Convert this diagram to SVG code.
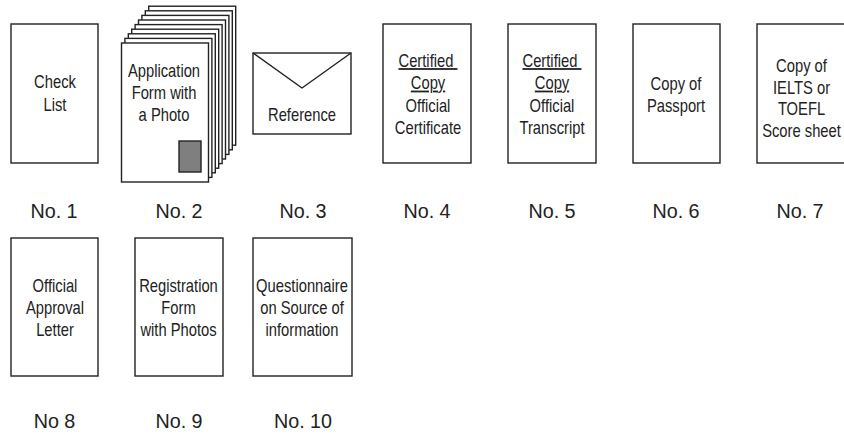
<svg xmlns="http://www.w3.org/2000/svg" width="844" height="435" viewBox="0 0 844 435">
  <style>
    .box { fill: #fff; stroke: #222; stroke-width: 1.4; }
    .photo { fill: #7f7f7f; stroke: #222; stroke-width: 1.4; }
    .flap { fill: none; stroke: #222; stroke-width: 1.4; stroke-linejoin: round; }
    .t { font-family: "Liberation Sans", Arial, sans-serif; font-size: 18px; fill: #222; text-anchor: middle; }
    .n { font-family: "Liberation Sans", Arial, sans-serif; font-size: 21px; fill: #222; text-anchor: middle; }
    .u { text-decoration: underline; white-space: pre; }
  </style>
  <rect width="844" height="435" fill="#fff"/>

  <!-- No. 1 -->
  <g id="doc1">
    <rect class="box" x="11" y="24" width="87" height="139"/>
    <text class="t" transform="matrix(0.82 0 0 1 55 0)"><tspan x="0" y="88">Check</tspan><tspan x="0" y="111">List</tspan></text>
    <text class="n" transform="matrix(0.94 0 0 1 54 0)" x="0" y="218.5">No. 1</text>
  </g>

  <!-- No. 2: a stack of sheets, drawn back to front -->
  <g id="doc2">
    <rect class="box" x="148.7" y="6.2" width="87" height="139"/>
    <rect class="box" x="145.3" y="10.8" width="87" height="139"/>
    <rect class="box" x="141.9" y="15.4" width="87" height="139"/>
    <rect class="box" x="138.5" y="20" width="87" height="139"/>
    <rect class="box" x="135.1" y="24.6" width="87" height="139"/>
    <rect class="box" x="131.7" y="29.2" width="87" height="139"/>
    <rect class="box" x="128.3" y="33.8" width="87" height="139"/>
    <rect class="box" x="124.9" y="38.4" width="87" height="139"/>
    <rect class="box" x="121.5" y="43" width="87" height="139"/>
    <rect class="photo" x="179" y="141" width="22" height="31"/>
    <text class="t" transform="matrix(0.82 0 0 1 164 0)"><tspan x="0" y="77.5">Application</tspan><tspan x="0" y="99.5">Form with</tspan><tspan x="0" y="121">a Photo</tspan></text>
    <text class="n" transform="matrix(0.94 0 0 1 179 0)" x="0" y="218.5">No. 2</text>
  </g>

  <!-- No. 3: envelope -->
  <g id="doc3">
    <rect class="box" x="253" y="53" width="98" height="81"/>
    <polyline class="flap" points="253,53 302,88 351,53"/>
    <text class="t" transform="matrix(0.82 0 0 1 302 0)" x="0" y="121.5">Reference</text>
    <text class="n" transform="matrix(0.94 0 0 1 303 0)" x="0" y="218.5">No. 3</text>
  </g>

  <!-- No. 4 -->
  <g id="doc4">
    <rect class="box" x="383" y="24" width="88" height="139"/>
    <text class="t" transform="matrix(0.82 0 0 1 428 0)"><tspan class="u" x="0" y="67">Certified </tspan><tspan class="u" x="0" y="89.5">Copy</tspan><tspan x="0" y="112">Official</tspan><tspan x="0" y="134">Certificate</tspan></text>
    <text class="n" transform="matrix(0.94 0 0 1 427 0)" x="0" y="218.5">No. 4</text>
  </g>

  <!-- No. 5 -->
  <g id="doc5">
    <rect class="box" x="508" y="24" width="88" height="139"/>
    <text class="t" transform="matrix(0.82 0 0 1 552 0)"><tspan class="u" x="0" y="67">Certified </tspan><tspan class="u" x="0" y="89.5">Copy</tspan><tspan x="0" y="112">Official</tspan><tspan x="0" y="134">Transcript</tspan></text>
    <text class="n" transform="matrix(0.94 0 0 1 552 0)" x="0" y="218.5">No. 5</text>
  </g>

  <!-- No. 6 -->
  <g id="doc6">
    <rect class="box" x="633" y="24" width="87" height="139"/>
    <text class="t" transform="matrix(0.82 0 0 1 676 0)"><tspan x="0" y="90">Copy of</tspan><tspan x="0" y="112">Passport</tspan></text>
    <text class="n" transform="matrix(0.94 0 0 1 676 0)" x="0" y="218.5">No. 6</text>
  </g>

  <!-- No. 7 (runs past the right edge) -->
  <g id="doc7">
    <rect class="box" x="757" y="24" width="89" height="139"/>
    <text class="t" transform="matrix(0.82 0 0 1 801.5 0)"><tspan x="0" y="72">Copy of</tspan><tspan x="0" y="94">IELTS or</tspan><tspan x="0" y="115.5">TOEFL</tspan><tspan x="0" y="137">Score sheet</tspan></text>
    <text class="n" transform="matrix(0.94 0 0 1 800 0)" x="0" y="218.5">No. 7</text>
  </g>

  <!-- No 8 -->
  <g id="doc8">
    <rect class="box" x="11" y="238" width="87" height="138"/>
    <text class="t" transform="matrix(0.82 0 0 1 55 0)"><tspan x="0" y="292">Official</tspan><tspan x="0" y="314">Approval</tspan><tspan x="0" y="336.5">Letter</tspan></text>
    <text class="n" transform="matrix(0.94 0 0 1 54.5 0)" x="0" y="428">No 8</text>
  </g>

  <!-- No. 9 -->
  <g id="doc9">
    <rect class="box" x="135" y="238" width="88" height="138"/>
    <text class="t" transform="matrix(0.82 0 0 1 178.5 0)"><tspan x="0" y="292">Registration</tspan><tspan x="0" y="314">Form</tspan><tspan x="0" y="336.5">with Photos</tspan></text>
    <text class="n" transform="matrix(0.94 0 0 1 179 0)" x="0" y="428">No. 9</text>
  </g>

  <!-- No. 10 -->
  <g id="doc10">
    <rect class="box" x="253" y="238" width="99" height="138"/>
    <text class="t" transform="matrix(0.82 0 0 1 302 0)"><tspan x="0" y="292">Questionnaire</tspan><tspan x="0" y="314">on Source of</tspan><tspan x="0" y="336.5">information</tspan></text>
    <text class="n" transform="matrix(0.94 0 0 1 303 0)" x="0" y="428">No. 10</text>
  </g>

  <g id="connectors"/>
</svg>
